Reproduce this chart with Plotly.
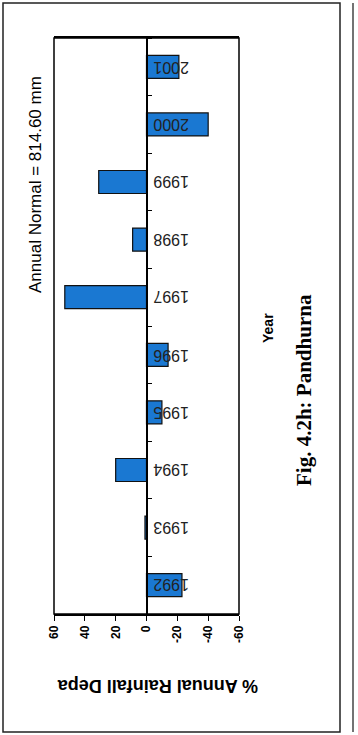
import plotly.graph_objects as go

# Annual rainfall departure (%) from the normal, Pandhurna
years = ["1992", "1993", "1994", "1995", "1996", "1997", "1998", "1999", "2000", "2001"]
departure = [-23, 1, 20, -10, -14, 53, 9, 31, -40, -21]
value_ticks = [60, 40, 20, 0, -20, -40, -60]

W, H = 358, 735
L, R, T, B = 54, 239, 38, 614  # plot area in pixels


def px(x):
    return (x - L) / (R - L)


def py(y):
    return (B - y) / (B - T)


fig = go.Figure()
fig.add_trace(go.Bar(
    x=departure,
    y=years,
    orientation="h",
    marker=dict(color="#1a78d2", line=dict(color="#111111", width=1.2)),
    width=0.4,
))

fig.update_layout(
    width=W,
    height=H,
    margin=dict(l=L, r=W - R, t=T, b=H - B),
    paper_bgcolor="white",
    plot_bgcolor="white",
    showlegend=False,
    xaxis=dict(
        range=[60, -60],
        tickvals=value_ticks,
        ticktext=[str(v) for v in value_ticks],
        tickangle=-90,
        ticks="outside",
        ticklen=5,
        tickcolor="black",
        showline=True,
        linecolor="black",
        linewidth=1.5,
        mirror=True,
        showgrid=False,
        zeroline=False,
        tickfont=dict(family="Liberation Sans, Arial", size=12, color="black", weight="bold"),
    ),
    yaxis=dict(
        type="category",
        categoryorder="array",
        categoryarray=years,
        range=[-0.5, len(years) - 0.5],
        anchor="free",
        position=px(146.5),
        side="right",
        showline=True,
        linecolor="black",
        linewidth=1.5,
        ticks="outside",
        tickson="boundaries",
        ticklen=5,
        tickcolor="black",
        showticklabels=False,
        showgrid=False,
        zeroline=False,
    ),
)

# year labels, upside down, beside the zero line
for i, yr in enumerate(years):
    fig.add_annotation(text=yr, xref="paper", yref="y", x=px(171), y=i,
                       xanchor="center", yanchor="middle",
                       showarrow=False, textangle=180,
                       font=dict(family="Liberation Sans, Arial", size=16, color="#222222"))

# left and right sides of the plot frame
fig.add_shape(type="rect", xref="x domain", yref="y domain", x0=0, x1=1, y0=0, y1=1,
              line=dict(color="black", width=1.5), layer="above")

# outer figure borders
fig.add_shape(type="rect", xref="paper", yref="paper",
              x0=px(3), x1=px(340), y0=py(732), y1=py(3),
              line=dict(color="#222222", width=1.5))
fig.add_shape(type="line", xref="paper", yref="paper",
              x0=px(353), x1=px(353), y0=py(732), y1=py(3),
              line=dict(color="#444444", width=1.5))

# texts
texts = [
    ("% Annual Rainfall Depa", 158, 686, 180, "Liberation Sans, Arial", 18, "bold"),
    ("Annual Normal = 814.60 mm", 35, 185, -90, "Liberation Sans, Arial", 17, "normal"),
    ("Year", 268, 328, -90, "Liberation Sans, Arial", 14, "bold"),
    ("Fig. 4.2h: Pandhurna", 304, 390, -90, "Liberation Serif, Times New Roman", 21, "bold"),
]
for txt, x, y, ang, fam, size, wt in texts:
    fig.add_annotation(text=txt, xref="paper", yref="paper", x=px(x), y=py(y),
                       xanchor="center", yanchor="middle", showarrow=False,
                       textangle=ang,
                       font=dict(family=fam, size=size, color="black", weight=wt))

fig.write_html("out.html")
